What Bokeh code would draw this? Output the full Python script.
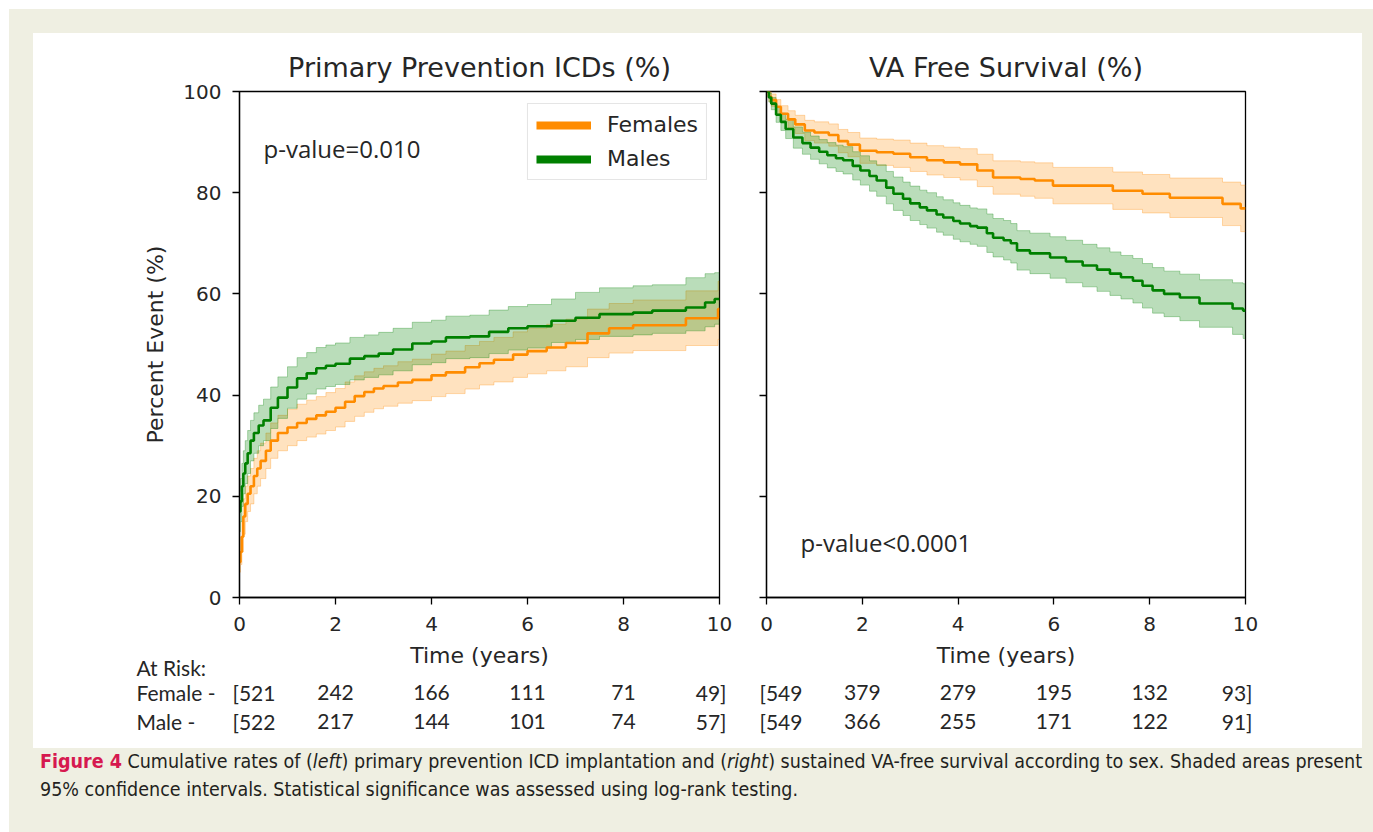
from bokeh.plotting import figure
from bokeh.models import (Range1d, FixedTicker, Label, Legend, LegendItem, Div)
from bokeh.layouts import row, column
from bokeh.core.properties import value
from bokeh.embed import file_html
from bokeh.resources import INLINE

# ---------------- data ----------------
# Left panel: cumulative primary-prevention ICD implantation (%)
icd_f_t = [0, 0.02, 0.05, 0.08, 0.12, 0.17, 0.23, 0.30, 0.37, 0.44, 0.55, 0.65, 0.80, 1.0, 1.2, 1.4, 1.6, 1.8,
           2.0, 2.2, 2.4, 2.6, 2.8, 3.0, 3.3, 3.6, 4.0, 4.3, 4.7, 5.0, 5.3, 5.7, 6.0, 6.4, 6.8, 7.25, 7.7, 8.2,
           9.3, 9.97, 10]
icd_f = [7, 9, 12, 16, 18.5, 20.5, 22, 24, 25.5, 27, 29, 31, 32.5, 33.6, 34.5, 35.3, 36, 36.7, 37.5, 38.7, 39.8,
         40.6, 41.3, 41.8, 42.5, 43, 43.9, 44.5, 45.5, 46.3, 47, 48, 48.7, 49.4, 50.3, 52.2, 53.2, 53.8, 55.2, 57, 57]
icd_f_lo = [5, 6.5, 9, 12.5, 15, 17, 18.5, 20.5, 22, 23.5, 25.5, 27.5, 29, 30, 31, 31.7, 32.3, 33, 33.7, 34.8,
            35.8, 36.6, 37.3, 37.8, 38.4, 38.9, 39.7, 40.3, 41.2, 42, 42.6, 43.5, 44.2, 44.8, 45.6, 47.4, 48.3,
            48.8, 49.8, 51, 51]
icd_f_hi = [9.5, 12, 15, 19.5, 22, 24, 25.5, 27.5, 29, 30.5, 32.5, 34.5, 36, 37.2, 38.2, 39, 39.7, 40.5, 41.3,
            42.6, 43.8, 44.6, 45.3, 45.8, 46.6, 47.1, 48.1, 48.7, 49.8, 50.6, 51.4, 52.5, 53.2, 54, 55, 57, 58.1,
            58.8, 60.6, 62.5, 62.5]

icd_m_t = [0, 0.02, 0.05, 0.08, 0.12, 0.17, 0.23, 0.30, 0.40, 0.50, 0.65, 0.80, 1.0, 1.2, 1.4, 1.6, 1.8, 2.0,
           2.3, 2.6, 2.9, 3.2, 3.6, 4.0, 4.3, 4.8, 5.2, 5.6, 6.0, 6.5, 7.0, 7.5, 8.2, 8.6, 9.3, 9.7, 9.9, 10]
icd_m = [17, 19, 22, 24.5, 26.5, 28.5, 31, 32.5, 34, 35, 37.5, 39.5, 41.5, 43.3, 44.3, 45.3, 45.8, 46.2, 47.2,
         47.7, 48.2, 49, 50.2, 50.6, 51.4, 51.6, 52.5, 53.2, 53.6, 54.7, 55.3, 56, 56.3, 56.7, 57.3, 58.3, 59, 59]
icd_m_lo = [13, 15, 18, 20.5, 22.5, 24.5, 27, 28.5, 30, 31, 33.4, 35.4, 37.4, 39.2, 40.2, 41.2, 41.7, 42.1, 43,
            43.5, 44, 44.8, 46, 46.4, 47.2, 47.4, 48.2, 48.9, 49.3, 50.4, 51, 51.6, 51.9, 52.2, 52.7, 53.5, 54, 54]
icd_m_hi = [21, 23.5, 26.5, 29, 31, 33, 35, 36.5, 38, 39.2, 41.6, 43.6, 45.6, 47.4, 48.4, 49.4, 49.9, 50.3, 51.4,
            51.9, 52.4, 53.2, 54.4, 54.8, 55.6, 55.8, 56.8, 57.5, 57.9, 59, 60.3, 61.2, 61.6, 61.8, 63.2, 64, 64.2,
            64.2]

# Right panel: VA-free survival (%)
va_f_t = [0, 0.05, 0.1, 0.2, 0.3, 0.45, 0.6, 0.8, 1.0, 1.3, 1.5, 1.7, 1.95, 2.3, 2.65, 3.0, 3.35, 3.7, 4.04, 4.4,
          4.73, 5.3, 5.6, 5.98, 7.23, 7.85, 8.42, 9.52, 9.9, 10]
va_f = [100, 99, 98.3, 97, 95.6, 94.5, 93.5, 92.3, 91.9, 91.4, 90.2, 89.5, 88.3, 88, 87.7, 87, 86.4, 86, 85.6,
        84.4, 83, 82.7, 82.4, 81.4, 80.4, 79.8, 79, 77.8, 76.9, 76.9]
va_f_lo = [100, 98, 97.1, 95.6, 94, 92.8, 91.7, 90.3, 89.8, 89.2, 87.9, 87.1, 85.8, 85.4, 85, 84.2, 83.5, 83,
           82.5, 81.2, 79.7, 79.3, 78.9, 77.8, 76.7, 76, 75.1, 73.5, 72.3, 72.3]
va_f_hi = [100, 100, 99.5, 98.4, 97.2, 96.2, 95.3, 94.3, 94, 93.6, 92.5, 91.9, 90.8, 90.6, 90.4, 89.8, 89.3, 89,
           88.7, 87.6, 86.3, 86.1, 85.9, 85, 84.1, 83.6, 82.9, 82.1, 81.5, 81.5]

va_m_t = [0, 0.05, 0.1, 0.2, 0.3, 0.4, 0.56, 0.75, 0.92, 1.1, 1.27, 1.45, 1.6, 1.8, 1.96, 2.15, 2.3, 2.5, 2.65,
          2.85, 3.0, 3.2, 3.35, 3.55, 3.69, 3.9, 4.04, 4.25, 4.4, 4.6, 4.73, 4.95, 5.1, 5.23, 5.5, 5.92, 6.25, 6.6,
          6.9, 7.17, 7.4, 7.65, 7.85, 8.06, 8.3, 8.63, 9.04, 9.73, 9.95, 10]
va_m = [100, 98.8, 97.6, 95.4, 94, 92.6, 90.9, 89.8, 88.9, 88.1, 87.4, 86.8, 86.4, 85.3, 84.4, 83.3, 82.4, 81,
        79.8, 78.8, 77.9, 77.1, 76.5, 75.7, 75.1, 74.4, 73.9, 73.4, 73.1, 72, 71.1, 70.6, 70, 68.6, 68, 67.2, 66.4,
        65.6, 64.8, 64, 63.3, 62.6, 61.6, 60.7, 60, 59.3, 58.1, 57.1, 56.7, 56.7]
va_m_lo = [100, 97.9, 96.4, 93.9, 92.3, 90.7, 88.8, 87.6, 86.6, 85.7, 84.9, 84.2, 83.7, 82.5, 81.5, 80.3, 79.3,
           77.8, 76.5, 75.5, 74.5, 73.7, 73, 72.2, 71.6, 70.8, 70.3, 69.8, 69.4, 68.2, 67.3, 66.7, 66.1, 64.7, 64,
           63.1, 62.2, 61.4, 60.5, 59.7, 59, 58.2, 57.2, 56.2, 55.5, 54.7, 53.4, 52, 51.2, 51.2]
va_m_hi = [100, 99.7, 98.8, 96.9, 95.7, 94.5, 93, 92, 91.2, 90.5, 89.9, 89.4, 89.1, 88.1, 87.3, 86.3, 85.5, 84.2,
           83.1, 82.1, 81.3, 80.5, 80, 79.2, 78.6, 78, 77.5, 77, 76.8, 75.8, 74.9, 74.5, 73.9, 72.5, 72, 71.3, 70.6,
           69.8, 69.1, 68.3, 67.6, 67, 66, 65.2, 64.5, 63.9, 62.8, 62.2, 62, 62]

# At-risk table
risk_times = [0, 2, 4, 6, 8, 10]
icd_risk_f = [521, 242, 166, 111, 71, 49]
icd_risk_m = [522, 217, 144, 101, 74, 57]
va_risk_f = [549, 379, 279, 195, 132, 93]
va_risk_m = [549, 366, 255, 171, 122, 91]
risk_groups = ["Female -", "Male -"]

x_ticks = [0, 2, 4, 6, 8, 10]
y_ticks = [0, 20, 40, 60, 80, 100]

# ---------------- styles / geometry ----------------
ORANGE = "#ff8c00"
GREEN = "#008000"
BEIGE = "#efefe2"
TXT = "#262626"
SANS = "DejaVu Sans"
RISK_FONT = "Lato"
RISK_SIZE = "21px"

MAIN_TOP = 58
MAIN_BOTTOM = 44
FRAME_H = 506
L_LEFT, L_FRAME, L_RIGHT = 206, 480, 23     # left panel borders / frame width
R_LEFT, R_FRAME, R_RIGHT = 24, 479, 117     # right panel borders / frame width
PANEL_W = L_LEFT + L_FRAME + L_RIGHT + R_LEFT + R_FRAME + R_RIGHT
TABLE_H = 107
ROW_PX = 29               # vertical distance between table rows
MALE_FROM_TOP = 80        # px from table top to the Male row
ATRISK_FROM_TOP = 26
TIME_FROM_TOP = 14


def make_fig(title, frame_w, mb_left, mb_right):
    p = figure(frame_width=frame_w, frame_height=FRAME_H, min_border_left=mb_left, min_border_right=mb_right,
               min_border_top=MAIN_TOP, min_border_bottom=MAIN_BOTTOM, x_range=Range1d(0, 10),
               y_range=Range1d(0, 100), output_backend="svg", toolbar_location=None, title=title)
    p.background_fill_color = "white"
    p.border_fill_color = "white"
    p.outline_line_color = "black"
    p.outline_line_width = 1.3
    p.grid.visible = False
    p.title.text_font = SANS
    p.title.text_font_size = "27px"
    p.title.text_font_style = "normal"
    p.title.text_color = TXT
    p.title.align = "center"
    p.title.standoff = 17
    for ax in (p.xaxis[0], p.yaxis[0]):
        ax.axis_line_color = "black"
        ax.axis_line_width = 1.3
        ax.major_tick_line_color = "black"
        ax.major_tick_line_width = 1.3
        ax.major_tick_out = 7
        ax.major_tick_in = 0
        ax.minor_tick_out = 0
        ax.minor_tick_in = 0
        ax.major_label_text_font = SANS
        ax.major_label_text_font_size = "20px"
        ax.major_label_text_color = TXT
        ax.axis_label_text_font = SANS
        ax.axis_label_text_font_size = "22px"
        ax.axis_label_text_font_style = "normal"
        ax.axis_label_text_color = TXT
    p.xaxis.ticker = FixedTicker(ticks=x_ticks)
    p.yaxis.ticker = FixedTicker(ticks=y_ticks)
    p.xaxis.major_label_standoff = 12
    p.yaxis.major_label_standoff = 11
    return p


def draw_curve(p, t, v, lo, hi, color, fill_alpha):
    try:
        p.varea_step(x=t, y1=lo, y2=hi, step_mode="after", fill_color=color, fill_alpha=fill_alpha)
    except Exception:
        xs, y1s, y2s = [], [], []
        for i in range(len(t)):
            if i > 0:
                xs.append(t[i]); y1s.append(lo[i - 1]); y2s.append(hi[i - 1])
            xs.append(t[i]); y1s.append(lo[i]); y2s.append(hi[i])
        p.varea(x=xs, y1=y1s, y2=y2s, fill_color=color, fill_alpha=fill_alpha)
    p.step(t, lo, mode="after", line_color=color, line_alpha=0.3, line_width=1)
    p.step(t, hi, mode="after", line_color=color, line_alpha=0.3, line_width=1)


def draw_line(p, t, v, color):
    p.step(t, v, mode="after", line_color=color, line_width=2.6)


def add_label(p, x, y, text, font, size):
    p.add_layout(Label(x=x, y=y, text=text, text_align="left", text_baseline="middle",
                       text_font=font, text_font_size=size, text_color=TXT))


# ---------------- left panel ----------------
p1 = make_fig("Primary Prevention ICDs (%)", L_FRAME, L_LEFT, L_RIGHT)
p1.yaxis.axis_label = "Percent Event (%)"
p1.yaxis.axis_label_standoff = 12
draw_curve(p1, icd_f_t, icd_f, icd_f_lo, icd_f_hi, ORANGE, 0.25)
draw_curve(p1, icd_m_t, icd_m, icd_m_lo, icd_m_hi, GREEN, 0.27)
draw_line(p1, icd_f_t, icd_f, ORANGE)
draw_line(p1, icd_m_t, icd_m, GREEN)

# legend swatches: thick lines lying outside the visible range
rf = p1.line(x=[-5, -4], y=[-50, -50], line_color=ORANGE, line_width=8)
rm = p1.line(x=[-5, -4], y=[-50, -50], line_color=GREEN, line_width=8)
legend = Legend(items=[LegendItem(label="Females", renderers=[rf]), LegendItem(label="Males", renderers=[rm])],
                location="top_right", label_text_font=SANS, label_text_font_size="22px", label_text_color=TXT,
                glyph_width=55, glyph_height=20, label_height=20, label_standoff=16, padding=8, spacing=9,
                margin=12, border_line_color="#cccccc", border_line_width=1, background_fill_color="white",
                background_fill_alpha=1)
p1.add_layout(legend)
add_label(p1, 0.5, 88.7, "p-value=0.010", "Open Sans", "24px")

# ---------------- right panel ----------------
p2 = make_fig("VA Free Survival (%)", R_FRAME, R_LEFT, R_RIGHT)
p2.yaxis.major_label_overrides = {v: "" for v in y_ticks}
p2.yaxis.major_label_standoff = 0
draw_curve(p2, va_f_t, va_f, va_f_lo, va_f_hi, ORANGE, 0.25)
draw_curve(p2, va_m_t, va_m, va_m_lo, va_m_hi, GREEN, 0.27)
draw_line(p2, va_f_t, va_f, ORANGE)
draw_line(p2, va_m_t, va_m, GREEN)
add_label(p2, 0.71, 10.9, "p-value<0.0001", "Open Sans", "24px")

# ---------------- at-risk table (one strip under both panels) ----------------
# x scales reproduce each panel's own years->pixels mapping
l_ppu = L_FRAME / 10.0
r_ppu = R_FRAME / 10.0
r_origin = L_LEFT + L_FRAME + L_RIGHT + R_LEFT
tx_left = Range1d(-L_LEFT / l_ppu, (PANEL_W - L_LEFT) / l_ppu)
tx_right = Range1d(-r_origin / r_ppu, (PANEL_W - r_origin) / r_ppu)
ty = Range1d(-(TABLE_H - MALE_FROM_TOP) / ROW_PX, MALE_FROM_TOP / ROW_PX)

tab = figure(width=PANEL_W, height=TABLE_H, x_range=tx_left, y_range=ty, min_border=0,
             x_axis_type=None, y_axis_type=None, output_backend="svg", toolbar_location=None)
tab.extra_x_ranges = {"va": tx_right}
try:
    tab.frame_align = False
except Exception:
    pass
tab.background_fill_color = "white"
tab.border_fill_color = "white"
tab.outline_line_color = None
tab.grid.visible = False

common = dict(text_font=value(RISK_FONT), text_font_size=RISK_SIZE, text_color=TXT, text_baseline="middle")


def add_risk_rows(range_name, risk_f, risk_m):
    for yv, counts in ((1, risk_f), (0, risk_m)):
        tab.text(x=[risk_times[0]], y=[yv], text=["[" + str(counts[0])], text_align="left", x_offset=-7,
                 x_range_name=range_name, **common)
        tab.text(x=risk_times[1:-1], y=[yv] * (len(counts) - 2), text=[str(c) for c in counts[1:-1]],
                 text_align="center", x_range_name=range_name, **common)
        tab.text(x=[risk_times[-1]], y=[yv], text=[str(counts[-1]) + "]"], text_align="right", x_offset=7,
                 x_range_name=range_name, **common)
    tab.text(x=[5], y=[(MALE_FROM_TOP - TIME_FROM_TOP) / ROW_PX], text=["Time (years)"], text_align="center",
             text_baseline="middle", text_font=value(SANS), text_font_size="22px", text_color=TXT,
             x_range_name=range_name)


add_risk_rows("default", icd_risk_f, icd_risk_m)
add_risk_rows("va", va_risk_f, va_risk_m)
name_x = tx_left.start + 103 / l_ppu
tab.text(x=[name_x], y=[(MALE_FROM_TOP - ATRISK_FROM_TOP) / ROW_PX], text=["At Risk:"], text_align="left", **common)
tab.text(x=[name_x, name_x], y=[1, 0], text=risk_groups, text_align="left", **common)

# ---------------- page layout ----------------
caption_html = (
    '<div style="font-family:\'Liberation Sans Narrow\',\'DejaVu Sans Condensed\',sans-serif;'
    'font-size:19.5px;line-height:28px;color:#231f20;padding-left:31px;white-space:nowrap;">'
    '<span style="color:#d6194f;font-weight:bold;">Figure 4</span> Cumulative rates of (<i>left</i>) primary '
    'prevention ICD implantation and (<i>right</i>) sustained VA-free survival according to sex. Shaded areas '
    'present<br>95% confidence intervals. Statistical significance was assessed using log-rank testing.</div>'
)


def pad(w, h, color):
    return Div(text="", width=w, height=h, margin=0, styles={"background-color": color})


WHITE = "white"
panel_h = MAIN_TOP + FRAME_H + MAIN_BOTTOM + TABLE_H
inner_w = 24 + PANEL_W + 11
panel = column(row(p1, p2, styles={"background-color": WHITE}), tab, styles={"background-color": WHITE})
mid = row(pad(24, panel_h, BEIGE), panel, pad(11, panel_h, BEIGE), styles={"background-color": BEIGE})
caption = Div(text=caption_html, width=inner_w, height=832 - 9 - 24 - panel_h, margin=0,
              styles={"background-color": BEIGE})
inner = column(pad(inner_w, 24, BEIGE), mid, caption, styles={"background-color": BEIGE})
layout = column(pad(9 + inner_w, 9, WHITE), row(pad(9, 832 - 9, WHITE), inner), styles={"background-color": WHITE})

open("out.html", "w").write(file_html(layout, INLINE))
